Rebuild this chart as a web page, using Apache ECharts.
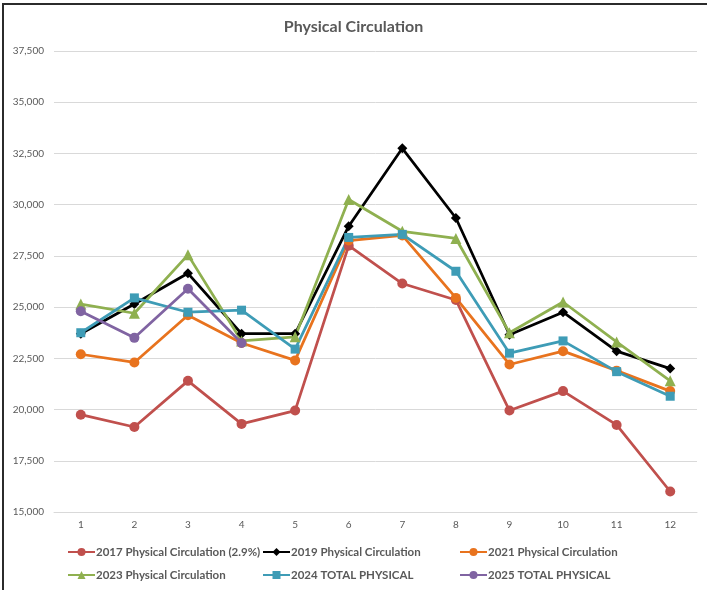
<!DOCTYPE html>
<html>
<head>
<meta charset="utf-8">
<script src="https://cdn.jsdelivr.net/npm/echarts@6/dist/echarts.min.js"></script>
<style>
  html, body { margin: 0; padding: 0; background: #fff; }
  #chart { width: 707px; height: 590px; }
</style>
</head>
<body>
<div id="chart"></div>
<script>
const months = ['1', '2', '3', '4', '5', '6', '7', '8', '9', '10', '11', '12'];

const y2017 = [19750, 19150, 21400, 19300, 19950, 28000, 26150, 25350, 19950, 20900, 19250, 16000];
const y2019 = [23700, 25150, 26650, 23700, 23700, 28950, 32750, 29350, 23650, 24750, 22850, 22000];
const y2021 = [22700, 22300, 24600, 23250, 22400, 28250, 28500, 25450, 22200, 22850, 21900, 20900];
const y2023 = [25150, 24700, 27550, 23350, 23550, 30250, 28700, 28350, 23750, 25250, 23300, 21400];
const y2024 = [23750, 25450, 24750, 24850, 22950, 28400, 28550, 26750, 22750, 23350, 21850, 20650];
const y2025 = [24800, 23500, 25900, 23250];

const seriesNames = [
  '2017 Physical Circulation (2.9%)',
  '2019 Physical Circulation',
  '2021 Physical Circulation',
  '2023 Physical Circulation',
  '2024 TOTAL PHYSICAL',
  '2025 TOTAL PHYSICAL'
];

const FONT = 'Lato, "Open Sans", sans-serif';
const TXT = '#595959';

const styles = [
  { color: '#C0504D', symbol: 'circle', size: 10 },
  { color: '#000000', symbol: 'diamond', size: 10 },
  { color: '#E8731E', symbol: 'circle', size: 10 },
  { color: '#8FB050', symbol: 'triangle', size: 11 },
  { color: '#3E9CB6', symbol: 'rect', size: 9 },
  { color: '#8064A2', symbol: 'circle', size: 10 }
];
const dataSets = [y2017, y2019, y2021, y2023, y2024, y2025];

const series = dataSets.map((d, i) => ({
  name: seriesNames[i],
  type: 'line',
  data: d,
  symbol: styles[i].symbol,
  symbolSize: styles[i].size,
  lineStyle: { color: styles[i].color, width: 2.75 },
  itemStyle: { color: styles[i].color },
  emphasis: { disabled: true },
  animation: false
}));

// one legend per item so the columns line up like the original
const legendPos = [
  [67, 546], [262, 546], [459, 546],
  [67, 569], [262, 569], [459, 569]
];
const legends = seriesNames.map((n, i) => ({
  data: [n],
  left: legendPos[i][0],
  top: legendPos[i][1],
  itemWidth: 27,
  itemHeight: 10,
  itemGap: 0,
  padding: 0,
  selectedMode: false,
  textStyle: { fontFamily: FONT, fontSize: 11.5, fontWeight: 'bold', color: TXT, padding: [0, 0, 0, -4] }
}));

const chart = echarts.init(document.getElementById('chart'));
chart.setOption({
  backgroundColor: '#fff',
  animation: false,
  textStyle: { fontFamily: FONT },
  title: {
    text: 'Physical Circulation',
    left: 'center',
    top: 14,
    textStyle: { fontFamily: FONT, fontSize: 16, fontWeight: 'bold', color: TXT }
  },
  legend: legends,
  grid: { left: 54, right: 10, top: 51, bottom: 78 },
  xAxis: {
    type: 'category',
    data: months,
    boundaryGap: true,
    axisLine: { lineStyle: { color: '#d9d9d9', width: 1 } },
    axisTick: { show: false },
    axisLabel: { color: TXT, fontSize: 10, fontFamily: FONT, margin: 8 }
  },
  yAxis: {
    type: 'value',
    min: 15000,
    max: 37500,
    interval: 2500,
    axisLine: { show: false },
    axisTick: { show: false },
    splitLine: { lineStyle: { color: '#d9d9d9', width: 1 } },
    axisLabel: {
      color: TXT, fontSize: 10, fontFamily: FONT, margin: 10,
      formatter: v => v.toLocaleString('en-US')
    }
  },
  graphic: [{
    type: 'rect',
    shape: { x: 3, y: 4, width: 720, height: 600 },
    style: { fill: 'none', stroke: '#2b2b2b', lineWidth: 2 },
    silent: true
  }],
  series: series
});
</script>
</body>
</html>
